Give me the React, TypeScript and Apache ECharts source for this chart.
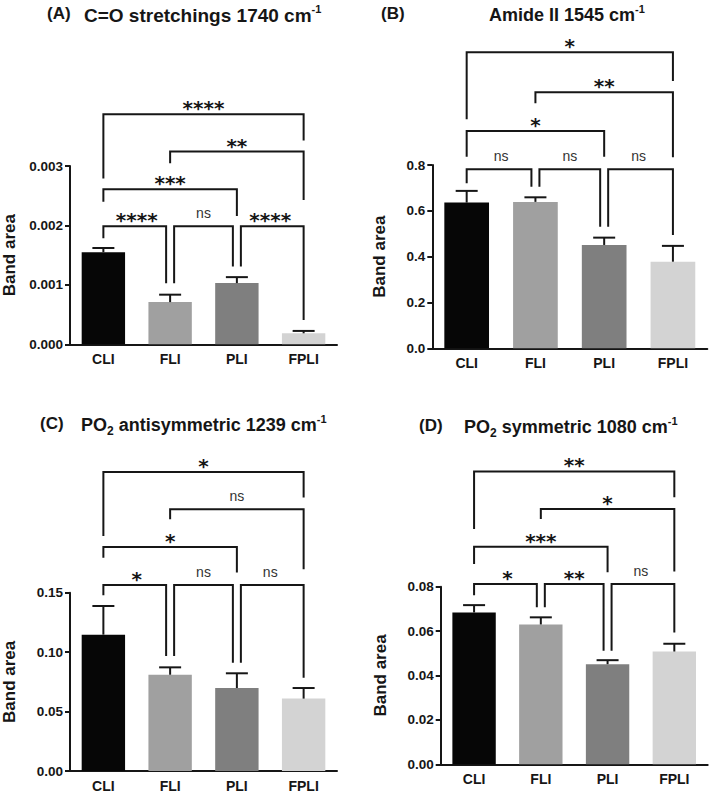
import React, { useEffect, useRef } from "react";
import * as echarts from "echarts";

// ---------- data ----------
const categories = ["CLI", "FLI", "PLI", "FPLI"];
const barColors = ["#060606", "#a0a0a0", "#7f7f7f", "#d3d3d3"];

const meansA = [0.00155, 0.00071, 0.00103, 0.000185];
const semA = [0.00007, 0.000125, 0.0001, 0.00004];
const meansB = [0.636, 0.639, 0.451, 0.378];
const semB = [0.051, 0.02, 0.032, 0.069];
const meansC = [0.1147, 0.081, 0.0698, 0.0609];
const semC = [0.0241, 0.0062, 0.0124, 0.0089];
const meansD = [0.0684, 0.063, 0.0451, 0.0508];
const semD = [0.0033, 0.0032, 0.0018, 0.0035];

// y-axis tick ranges: [min, max, step, decimals]
const ticksA = [0, 0.003, 0.001, 3];
const ticksB = [0, 0.8, 0.2, 1];
const ticksC = [0, 0.15, 0.05, 2];
const ticksD = [0, 0.08, 0.02, 2];

// comparisons: [groupA, groupB, bracketLevel, leftLegEnd, rightLegEnd, label]
const compA: [number, number, number, number, number, string][] = [
  [0, 3, 0.00387, 0.00279, 0.003427, "****"],
  [1, 3, 0.003242, 0.003045, 0.002429, "**"],
  [0, 2, 0.002608, 0.0024, 0.002159, "***"],
  [0, 1, 0.001985, 0.001783, 0.001026, "****"],
  [1, 2, 0.001985, 0.001026, 0.001307, "ns"],
  [2, 3, 0.001985, 0.001307, 0.000409, "****"],
];
const compB: [number, number, number, number, number, string][] = [
  [0, 3, 1.2916, 0.9993, 1.1665, "*"],
  [1, 3, 1.1171, 1.0691, 0.8335, "**"],
  [0, 2, 0.9484, 0.8364, 0.8364, "*"],
  [0, 1, 0.7811, 0.72, 0.7055, "ns"],
  [1, 2, 0.7811, 0.7055, 0.5309, "ns"],
  [2, 3, 0.7811, 0.5309, 0.4945, "ns"],
];
const compC: [number, number, number, number, number, string][] = [
  [0, 3, 0.2515, 0.1977, 0.23, "*"],
  [1, 3, 0.2201, 0.2117, 0.1697, "ns"],
  [0, 2, 0.1884, 0.1795, 0.1669, "*"],
  [0, 1, 0.1565, 0.1478, 0.0967, "*"],
  [1, 2, 0.1565, 0.0967, 0.0911, "ns"],
  [2, 3, 0.1565, 0.0911, 0.0785, "ns"],
];
const compD: [number, number, number, number, number, string][] = [
  [0, 3, 0.1319, 0.106, 0.1203, "**"],
  [1, 3, 0.115, 0.1105, 0.0868, "*"],
  [0, 2, 0.098, 0.0902, 0.0865, "***"],
  [0, 1, 0.0812, 0.0762, 0.0707, "*"],
  [1, 2, 0.0812, 0.0707, 0.0511, "**"],
  [2, 3, 0.0812, 0.0511, 0.0594, "ns"],
];

const titleLabels = ["(A)", "(B)", "(C)", "(D)"];
const titleTexts = [
  "{m|C=O stretchings 1740 cm}{sup|-1}",
  "{m|Amide II 1545 cm}{sup|-1}",
  "{m|PO}{sub|2}{m| antisymmetric 1239 cm}{sup|-1}",
  "{m|PO}{sub|2}{m| symmetric 1080 cm}{sup|-1}",
];
const yName = "Band area";

// ---------- layout ----------
const panels = [
  { means: meansA, sem: semA, ticks: ticksA, comp: compA, grid: { left: 69, top: 166, width: 268, height: 178.3 }, nameGap: 52, lab: [47, 5], main: [84, 3], fs: 19 },
  { means: meansB, sem: semB, ticks: ticksB, comp: compB, grid: { left: 432.3, top: 165, width: 275, height: 183.3 }, nameGap: 44, lab: [381, 5], main: [489, 3], fs: 18 },
  { means: meansC, sem: semC, ticks: ticksC, comp: compC, grid: { left: 69, top: 592.7, width: 268, height: 178.3 }, nameGap: 52, lab: [40, 415], main: [81, 413], fs: 18 },
  { means: meansD, sem: semD, ticks: ticksD, comp: compD, grid: { left: 440.7, top: 586.7, width: 267, height: 177.6 }, nameGap: 52, lab: [419, 417], main: [464, 415], fs: 18 },
];

const FONT = "Arial, 'Liberation Sans', sans-serif";
const INK = "#161616";

function buildOption() {
  const grid: any[] = [];
  const xAxis: any[] = [];
  const yAxis: any[] = [];
  const series: any[] = [];
  const title: any[] = [];

  panels.forEach((p, i) => {
    grid.push({ ...p.grid, containLabel: false });
    xAxis.push({
      type: "category",
      gridIndex: i,
      data: categories,
      axisLine: { lineStyle: { color: INK, width: 2 } },
      axisTick: { alignWithLabel: true, length: 5, lineStyle: { color: INK, width: 2 } },
      axisLabel: { color: INK, fontFamily: FONT, fontWeight: "bold", fontSize: 14, margin: 8 },
    });
    const [mn, mx, step, dec] = p.ticks as number[];
    yAxis.push({
      type: "value",
      gridIndex: i,
      min: mn,
      max: mx,
      interval: step,
      name: yName,
      nameLocation: "middle",
      nameGap: p.nameGap,
      nameTextStyle: { color: INK, fontFamily: FONT, fontWeight: "bold", fontSize: 17 },
      axisLine: { show: true, lineStyle: { color: INK, width: 2 } },
      axisTick: { show: true, length: 5, lineStyle: { color: INK, width: 2 } },
      splitLine: { show: false },
      axisLabel: {
        color: INK,
        fontFamily: FONT,
        fontWeight: "bold",
        fontSize: 13.5,
        margin: 7,
        formatter: (v: number) => v.toFixed(dec),
      },
    });
    series.push({
      type: "bar",
      xAxisIndex: i,
      yAxisIndex: i,
      barWidth: "65%",
      data: p.means.map((v, k) => ({ value: v, itemStyle: { color: barColors[k] } })),
      z: 2,
    });
    series.push({
      type: "custom",
      xAxisIndex: i,
      yAxisIndex: i,
      clip: false,
      z: 3,
      data: p.means.map((v, k) => [k, v, p.sem[k]]),
      renderItem: (params: any, api: any) => {
        const k = api.value(0);
        const m = api.value(1);
        const e = api.value(2);
        const base = api.coord([k, m]);
        const top = api.coord([k, m + e]);
        const half = 11;
        return {
          type: "group",
          children: [
            { type: "line", shape: { x1: top[0], y1: base[1], x2: top[0], y2: top[1] }, style: { stroke: INK, lineWidth: 2 } },
            { type: "line", shape: { x1: top[0] - half, y1: top[1], x2: top[0] + half, y2: top[1] }, style: { stroke: INK, lineWidth: 2 } },
          ],
        };
      },
    });
    series.push({
      type: "custom",
      xAxisIndex: i,
      yAxisIndex: i,
      clip: false,
      z: 4,
      data: p.comp.map((c) => [c[0], c[2]]),
      renderItem: (params: any, api: any) => {
        const [a, b, y, yl, yr, lab] = p.comp[params.dataIndex];
        const adj = b - a === 1;
        const pa = api.coord([a, y]);
        const pb = api.coord([b, y]);
        const xl = pa[0] + (adj && a > 0 ? 4 : 0);
        const xr = pb[0] - (adj && b < categories.length - 1 ? 4 : 0);
        const yy = pa[1];
        const ylp = api.coord([a, yl])[1];
        const yrp = api.coord([b, yr])[1];
        const isNs = lab === "ns";
        const cx = (pa[0] + pb[0]) / 2;
        return {
          type: "group",
          children: [
            { type: "polyline", shape: { points: [[xl, ylp], [xl, yy], [xr, yy], [xr, yrp]] }, style: { stroke: INK, lineWidth: 2, fill: null } },
            {
              type: "text",
              style: isNs
                ? { text: lab, x: cx, y: yy - 13, align: "center", verticalAlign: "middle", fontFamily: FONT, fontSize: 14, fill: "#333333" }
                : { text: lab, x: cx, y: yy - 6, align: "center", verticalAlign: "middle", fontFamily: "'DejaVu Sans', sans-serif", fontWeight: "bold", fontSize: 20, fill: INK },
            },
          ],
        };
      },
    });
    title.push({
      text: titleLabels[i],
      left: p.lab[0],
      top: p.lab[1],
      padding: 0,
      textStyle: { color: INK, fontFamily: FONT, fontWeight: "bold", fontSize: 17 },
    });
    title.push({
      text: titleTexts[i],
      left: p.main[0],
      top: p.main[1],
      padding: 0,
      textStyle: {
        rich: {
          m: { color: INK, fontFamily: FONT, fontWeight: "bold", fontSize: p.fs, lineHeight: 24 },
          sup: { color: INK, fontFamily: FONT, fontWeight: "bold", fontSize: 11, lineHeight: 14, verticalAlign: "top" },
          sub: { color: INK, fontFamily: FONT, fontWeight: "bold", fontSize: 12, lineHeight: 14, verticalAlign: "bottom" },
        },
      },
    });
  });

  return { animation: false, backgroundColor: "#ffffff", title, grid, xAxis, yAxis, series };
}

export default function App() {
  const ref = useRef<HTMLDivElement>(null);
  useEffect(() => {
    if (!ref.current) return;
    const chart = echarts.init(ref.current, undefined, { renderer: "svg" });
    chart.setOption(buildOption() as any);
    return () => chart.dispose();
  }, []);
  return <div ref={ref} style={{ position: "fixed", left: 0, top: 0, width: 709, height: 793 }} />;
}
